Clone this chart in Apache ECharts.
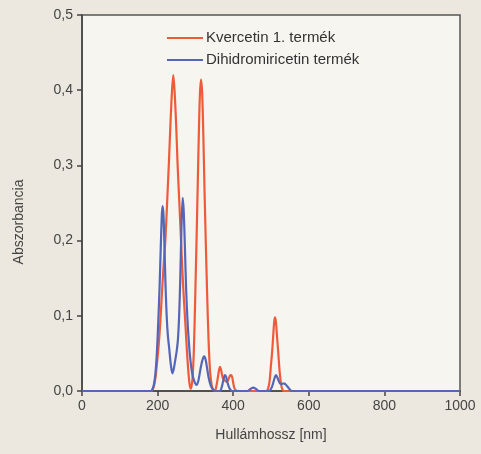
<!DOCTYPE html>
<html><head><meta charset="utf-8">
<script src="https://cdn.jsdelivr.net/npm/echarts@6/dist/echarts.min.js"></script>
<style>html,body{margin:0;padding:0;background:#ece8df;}#c{width:481px;height:454px;}</style>
</head><body><div id="c"></div>
<script>
const kvercetinNm  = [0,183,187,191,195,199,203,207,212,217,221,226,230,234,238,241.5,245,249,253,258,262,267,271,274,278,282,285,288,292,296,300,303.3,306,309,312,315,318,321,324,327,331,335,339,343,347,352,356,360,363,365,368,372,376,380,383,387,391,394,397,400,403,407,412,488,492,496,500,503,506,508.5,510.5,513,516,519.5,523,527,531,535,1000];
const kvercetinAbs = [0,0,0.002,0.008,0.02,0.04,0.062,0.09,0.135,0.175,0.205,0.26,0.305,0.355,0.398,0.42,0.398,0.355,0.30,0.245,0.20,0.145,0.11,0.085,0.05,0.022,0.008,0.003,0.015,0.055,0.135,0.207,0.27,0.34,0.395,0.414,0.395,0.34,0.27,0.207,0.13,0.065,0.025,0.008,0.002,0.001,0.008,0.02,0.029,0.032,0.028,0.018,0.015,0.013,0.012,0.015,0.02,0.021,0.019,0.011,0.004,0.001,0,0,0.003,0.012,0.035,0.052,0.075,0.092,0.098,0.092,0.072,0.049,0.025,0.008,0.001,0,0];
const dihidroNm  = [0,182,186,190,194,198,202,205,208,211,213,215.5,218,221,224,227,231,235,239,243,247,251,254,257,260,263,266.3,269,272,275.5,279,282,286,291,297,303,308,313,318,323,327,331,335,340,345,352,365,369,372,375,378,381,384,388,392,397,438,443,448,453,458,463,468,495,499,503,507,510,513,516,520,524,528,532,536,540,545,550,555,1000];
const dihidroAbs = [0,0,0.002,0.008,0.022,0.05,0.095,0.135,0.185,0.232,0.246,0.235,0.195,0.14,0.10,0.075,0.055,0.035,0.0235,0.03,0.042,0.055,0.07,0.10,0.15,0.215,0.257,0.24,0.195,0.135,0.095,0.07,0.045,0.025,0.013,0.008,0.014,0.028,0.04,0.046,0.042,0.03,0.018,0.008,0.003,0,0,0.004,0.01,0.017,0.021,0.019,0.013,0.006,0.002,0,0,0.0015,0.0035,0.0045,0.0035,0.0015,0,0,0.002,0.006,0.013,0.018,0.021,0.019,0.014,0.01,0.0095,0.01,0.0098,0.008,0.005,0.002,0,0];
const seriesNames = ['Kvercetin 1. termék','Dihidromiricetin termék'];
const yTickLabels = ['0,0','0,1','0,2','0,3','0,4','0,5'];
const xTitle = 'Hullámhossz [nm]';
const yTitle = 'Abszorbancia';

const pair = (xs,ys) => xs.map((w,i)=>[w,ys[i]]);
const chart = echarts.init(document.getElementById('c'));
const font = 'Liberation Sans, Arial, sans-serif';
chart.setOption({
  backgroundColor:'#ece8df',
  animation:false,
  textStyle:{fontFamily:font},
  grid:{left:82,right:21,top:15,bottom:63,show:true,backgroundColor:'#f7f5f0',borderColor:'#555',borderWidth:1.5},
  legend:{orient:'vertical',left:162,top:25,itemWidth:36,itemHeight:2,itemGap:6,icon:'rect',
    textStyle:{fontSize:15,color:'#333',fontFamily:font,lineHeight:16,padding:[0,0,0,-2]},
    data:seriesNames},
  xAxis:{type:'value',min:0,max:1000,interval:200,
    name:xTitle,nameLocation:'middle',nameGap:37,nameTextStyle:{fontSize:14,color:'#444'},
    axisLine:{lineStyle:{color:'#444',width:1.5}},
    axisTick:{show:true,length:5,lineStyle:{color:'#444',width:1.5}},
    axisLabel:{fontSize:14,color:'#444',margin:8,formatter:(v)=>String(v)},
    splitLine:{show:false}},
  yAxis:{type:'value',min:0,max:0.5,interval:0.1,
    name:yTitle,nameLocation:'middle',nameGap:56,nameTextStyle:{fontSize:14,color:'#444',padding:[0,38,0,0]},
    axisLine:{show:true,lineStyle:{color:'#444',width:1.5}},
    axisTick:{show:true,length:5,lineStyle:{color:'#444',width:1.5}},
    axisLabel:{fontSize:14,color:'#444',margin:9,formatter:(v)=>yTickLabels[Math.round(v*10)]},
    splitLine:{show:false}},
  series:[
    {name:seriesNames[0],type:'line',data:pair(kvercetinNm,kvercetinAbs),smooth:0.3,showSymbol:false,
      lineStyle:{color:'#ee5b3b',width:2.2},itemStyle:{color:'#ee5b3b'}},
    {name:seriesNames[1],type:'line',data:pair(dihidroNm,dihidroAbs),smooth:0.3,showSymbol:false,
      lineStyle:{color:'#5466b8',width:2.2},itemStyle:{color:'#5466b8'}}
  ]
});
</script></body></html>
